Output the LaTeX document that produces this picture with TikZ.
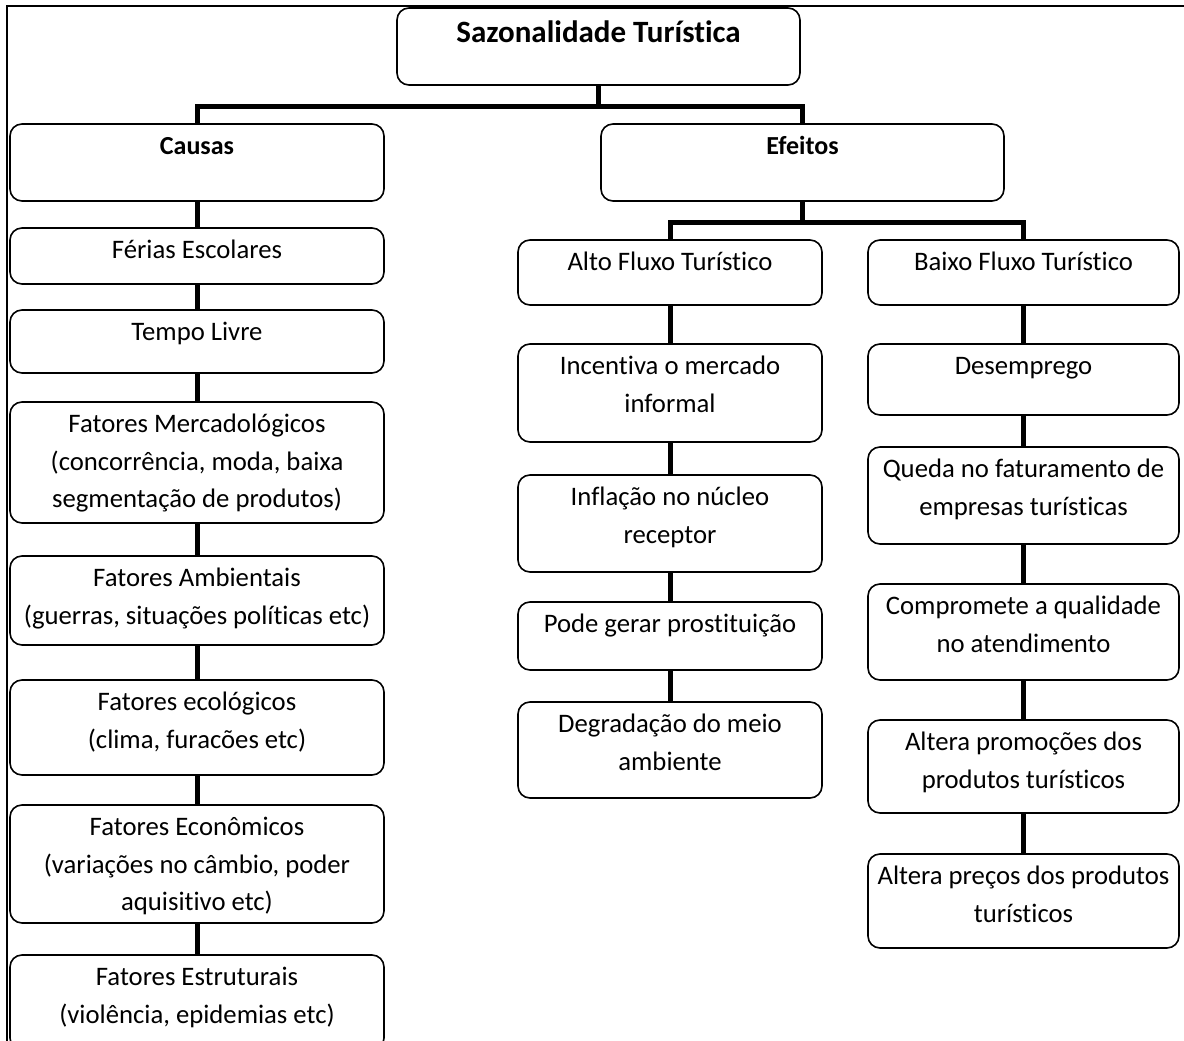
\documentclass[tikz,border=0pt]{standalone}
\usepackage{fontspec}
\setmainfont{Carlito}[Ligatures=NoCommon]
\newcommand\mkbox[7]{%
  \node[boxsty, minimum width={(#4-#2)*1pt}, minimum height={(#5-#3)*1pt}] (#1) at ({(#2+#4)/2},{(#3+#5)/2}) {};
  \node[txtsty,#7] (#1t) at ({(#2+#4)/2},{#3+4.5}) {\strut #6};
}
\begin{document}
\begin{tikzpicture}[x=1pt,y=-1pt,
  boxsty/.style={draw, line width=1.6pt, rounded corners=12pt, inner sep=0pt},
  txtsty/.style={anchor=north, inner sep=0pt, align=center, font=\fontsize{26.7}{37.5}\selectfont},
  boldtxt/.style={font=\fontsize{26}{37.5}\selectfont\bfseries},
  titletxt/.style={font=\fontsize{31}{37.5}\selectfont\bfseries, yshift=-4pt},
  conn/.style={line width=5pt}]
\useasboundingbox (0,0) rectangle (1184,1041);
\clip (0,0) rectangle (1184,1041);
\fill[white] (0,0) rectangle (1184,1041);
\draw[line width=1.5pt] (7,1050) -- (7,6) -- (1190,6);
% top
\mkbox{title}{397}{8}{800}{85}{Sazonalidade Turística}{titletxt}
\mkbox{causas}{10}{124}{384}{201}{Causas}{boldtxt}
\mkbox{efeitos}{601}{124}{1004}{201}{Efeitos}{boldtxt}
% left column
\mkbox{ferias}{10}{228}{384}{284}{Férias Escolares}{}
\mkbox{tempo}{10}{310}{384}{373}{Tempo Livre}{}
\mkbox{merc}{10}{402}{384}{523}{Fatores Mercadológicos\\(concorrência, moda, baixa\\segmentação de produtos)}{}
\mkbox{amb}{10}{556}{384}{645}{Fatores Ambientais\\(guerras, situações políticas etc)}{}
\mkbox{eco}{10}{680}{384}{775}{Fatores ecológicos\\(clima, furacões etc)}{}
\mkbox{econ}{10}{805}{384}{923}{Fatores Econômicos\\(variações no câmbio, poder\\aquisitivo etc)}{}
\mkbox{estr}{10}{955}{384}{1050}{Fatores Estruturais\\(violência, epidemias etc)}{}
% middle column
\mkbox{alto}{518}{240}{822}{305}{Alto Fluxo Turístico}{}
\mkbox{incent}{518}{344}{822}{442}{Incentiva o mercado\\informal}{}
\mkbox{infl}{518}{475}{822}{572}{Inflação no núcleo\\receptor}{}
\mkbox{prost}{518}{602}{822}{670}{Pode gerar prostituição}{}
\mkbox{degr}{518}{702}{822}{798}{Degradação do meio\\ambiente}{}
% right column
\mkbox{baixo}{868}{240}{1179}{305}{Baixo Fluxo Turístico}{}
\mkbox{desemp}{868}{344}{1179}{415}{Desemprego}{}
\mkbox{queda}{868}{447}{1179}{544}{Queda no faturamento de\\empresas turísticas}{}
\mkbox{comp}{868}{584}{1179}{680}{Compromete a qualidade\\no atendimento}{}
\mkbox{promo}{868}{720}{1179}{813}{Altera promoções dos\\produtos turísticos}{}
\mkbox{precos}{868}{854}{1179}{948}{Altera preços dos produtos\\turísticos}{}
% connectors
\draw[conn] (title.south) -- ++(0,21) -| (causas.north);
\draw[conn] (title.south) -- ++(0,21) -| (efeitos.north);
\draw[conn] (efeitos.south) -- ++(0,21) -| (alto.north);
\draw[conn] (efeitos.south) -- ++(0,21) -| (baixo.north);
\foreach \a/\b in {causas/ferias, ferias/tempo, tempo/merc, merc/amb, amb/eco, eco/econ, econ/estr,
  alto/incent, incent/infl, infl/prost, prost/degr,
  baixo/desemp, desemp/queda, queda/comp, comp/promo, promo/precos}
  \draw[conn] (\a.south) -- (\b.north);
\end{tikzpicture}
\end{document}
